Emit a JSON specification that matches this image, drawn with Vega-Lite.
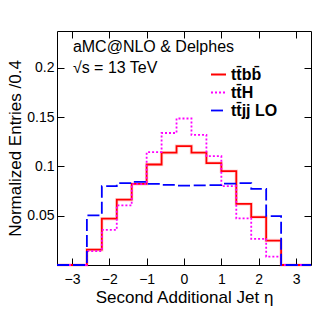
{
  "$schema": "https://vega.github.io/schema/vega-lite/v6.json",
  "width": 254,
  "height": 234,
  "autosize": {"type": "none"},
  "padding": {"left": 57, "top": 31, "right": 16, "bottom": 47},
  "background": "#ffffff",
  "config": {
    "font": "Liberation Sans",
    "view": {"stroke": "#000000", "strokeWidth": 1},
    "axis": {
      "domain": false,
      "grid": false,
      "tickColor": "#000000",
      "labelColor": "#000000",
      "titleColor": "#000000",
      "labelFont": "Liberation Sans",
      "titleFont": "Liberation Sans",
      "titleFontWeight": "normal",
      "labelFontSize": 14,
      "titleFontSize": 17
    }
  },
  "datasets": {
    "hist": [
      {"proc": "ttbb", "eta": -3.4, "value": 0},
      {"proc": "ttbb", "eta": -3.0, "value": 0},
      {"proc": "ttbb", "eta": -2.6, "value": 0.0156},
      {"proc": "ttbb", "eta": -2.2, "value": 0.047},
      {"proc": "ttbb", "eta": -1.8, "value": 0.0663},
      {"proc": "ttbb", "eta": -1.4, "value": 0.0823},
      {"proc": "ttbb", "eta": -1.0, "value": 0.102},
      {"proc": "ttbb", "eta": -0.6, "value": 0.114},
      {"proc": "ttbb", "eta": -0.2, "value": 0.1207},
      {"proc": "ttbb", "eta": 0.2, "value": 0.114},
      {"proc": "ttbb", "eta": 0.6, "value": 0.1035},
      {"proc": "ttbb", "eta": 1.0, "value": 0.0952},
      {"proc": "ttbb", "eta": 1.4, "value": 0.062},
      {"proc": "ttbb", "eta": 1.8, "value": 0.0486},
      {"proc": "ttbb", "eta": 2.2, "value": 0.0248},
      {"proc": "ttbb", "eta": 2.6, "value": 0},
      {"proc": "ttbb", "eta": 3.0, "value": 0},
      {"proc": "ttbb", "eta": 3.4, "value": 0},
      {"proc": "ttH", "eta": -3.4, "value": 0},
      {"proc": "ttH", "eta": -3.0, "value": 0},
      {"proc": "ttH", "eta": -2.6, "value": 0.014},
      {"proc": "ttH", "eta": -2.2, "value": 0.0357},
      {"proc": "ttH", "eta": -1.8, "value": 0.0605},
      {"proc": "ttH", "eta": -1.4, "value": 0.082},
      {"proc": "ttH", "eta": -1.0, "value": 0.1146},
      {"proc": "ttH", "eta": -0.6, "value": 0.134},
      {"proc": "ttH", "eta": -0.2, "value": 0.1487},
      {"proc": "ttH", "eta": 0.2, "value": 0.132},
      {"proc": "ttH", "eta": 0.6, "value": 0.1105},
      {"proc": "ttH", "eta": 1.0, "value": 0.08},
      {"proc": "ttH", "eta": 1.4, "value": 0.0473},
      {"proc": "ttH", "eta": 1.8, "value": 0.0265},
      {"proc": "ttH", "eta": 2.2, "value": 0.0085},
      {"proc": "ttH", "eta": 2.6, "value": 0},
      {"proc": "ttH", "eta": 3.0, "value": 0},
      {"proc": "ttH", "eta": 3.4, "value": 0},
      {"proc": "ttjj", "eta": -3.4, "value": 0},
      {"proc": "ttjj", "eta": -3.0, "value": 0},
      {"proc": "ttjj", "eta": -2.6, "value": 0.0503},
      {"proc": "ttjj", "eta": -2.2, "value": 0.08},
      {"proc": "ttjj", "eta": -1.8, "value": 0.083},
      {"proc": "ttjj", "eta": -1.4, "value": 0.0844},
      {"proc": "ttjj", "eta": -1.0, "value": 0.0823},
      {"proc": "ttjj", "eta": -0.6, "value": 0.0813},
      {"proc": "ttjj", "eta": -0.2, "value": 0.0805},
      {"proc": "ttjj", "eta": 0.2, "value": 0.0808},
      {"proc": "ttjj", "eta": 0.6, "value": 0.081},
      {"proc": "ttjj", "eta": 1.0, "value": 0.0825},
      {"proc": "ttjj", "eta": 1.4, "value": 0.083},
      {"proc": "ttjj", "eta": 1.8, "value": 0.0772},
      {"proc": "ttjj", "eta": 2.2, "value": 0.0497},
      {"proc": "ttjj", "eta": 2.6, "value": 0},
      {"proc": "ttjj", "eta": 3.0, "value": 0},
      {"proc": "ttjj", "eta": 3.4, "value": 0}
    ],
    "notes": [
      {"eta": -2.975, "value": 0.216, "label": "aMC@NLO & Delphes"},
      {"eta": -2.975, "value": 0.195, "label": "√s = 13 TeV"}
    ]
  },
  "layer": [
    {
      "data": {"name": "hist"},
      "transform": [{"filter": "datum.proc == 'ttbb'"}],
      "mark": {"type": "line", "interpolate": "step-after", "color": "#ff0000", "opacity": 0.15, "strokeWidth": 3.5},
      "encoding": {
        "x": {"field": "eta", "type": "quantitative", "scale": {"domain": [-3.4, 3.4], "nice": false, "zero": false},
          "axis": {"values": [-3, -2, -1, 0, 1, 2, 3], "tickSize": -7, "labelPadding": 14, "title": "Second Additional Jet η", "titleY": 37, "titleBaseline": "alphabetic"}},
        "y": {"field": "value", "type": "quantitative", "scale": {"domain": [0, 0.2375], "nice": false},
          "axis": {"values": [0.05, 0.1, 0.15, 0.2], "format": ".2~f", "tickSize": -7, "labelPadding": 10, "title": "Normalized Entries /0.4", "titleX": -37, "titleY": 117, "titleAngle": -90, "titleBaseline": "alphabetic", "titleAlign": "center"}}
      }
    },
    {
      "data": {"name": "hist"},
      "mark": {"type": "line", "interpolate": "step-after", "strokeWidth": 1.8},
      "encoding": {
        "x": {"field": "eta", "type": "quantitative", "axis": null},
        "y": {"field": "value", "type": "quantitative", "axis": null},
        "color": {"field": "proc", "type": "nominal",
          "scale": {"domain": ["ttbb", "ttH", "ttjj"], "range": ["#ff0000", "#ff00ff", "#0000ff"]},
          "legend": {"orient": "none", "legendX": 153, "legendY": 35, "title": null, "labelFontSize": 16, "labelFontWeight": "bold", "labelFont": "Liberation Sans", "labelColor": "#000000", "symbolType": "stroke", "symbolStrokeWidth": 1.8, "symbolSize": 225, "labelOffset": 4, "rowPadding": 1,
            "labelExpr": "datum.label == 'ttbb' ? 'tt̄bb̄' : datum.label == 'ttH' ? 'tt̄H' : 'tt̄jj LO'"}},
        "strokeDash": {"field": "proc", "type": "nominal",
          "scale": {"domain": ["ttbb", "ttH", "ttjj"], "range": [[1, 0], [2, 2], [12, 4]]},
          "legend": {"orient": "none", "legendX": 153, "legendY": 35, "title": null, "labelFontSize": 16, "labelFontWeight": "bold", "labelFont": "Liberation Sans", "labelColor": "#000000", "symbolType": "stroke", "symbolStrokeWidth": 1.8, "symbolSize": 225, "labelOffset": 4, "rowPadding": 1,
            "labelExpr": "datum.label == 'ttbb' ? 'tt̄bb̄' : datum.label == 'ttH' ? 'tt̄H' : 'tt̄jj LO'"}}
      }
    },
    {
      "data": {"name": "notes"},
      "mark": {"type": "text", "align": "left", "baseline": "alphabetic", "fontSize": 16, "font": "Liberation Sans", "color": "#000000"},
      "encoding": {
        "x": {"field": "eta", "type": "quantitative", "scale": {"domain": [-3.4, 3.4], "nice": false, "zero": false},
          "axis": {"orient": "top", "values": [-3, -2, -1, 0, 1, 2, 3], "tickSize": -7, "labels": false, "title": null}},
        "y": {"field": "value", "type": "quantitative", "scale": {"domain": [0, 0.2375], "nice": false},
          "axis": {"orient": "right", "values": [0.05, 0.1, 0.15, 0.2], "tickSize": -7, "labels": false, "title": null}},
        "text": {"field": "label"}
      }
    }
  ],
  "resolve": {"axis": {"x": "independent", "y": "independent"}}
}
